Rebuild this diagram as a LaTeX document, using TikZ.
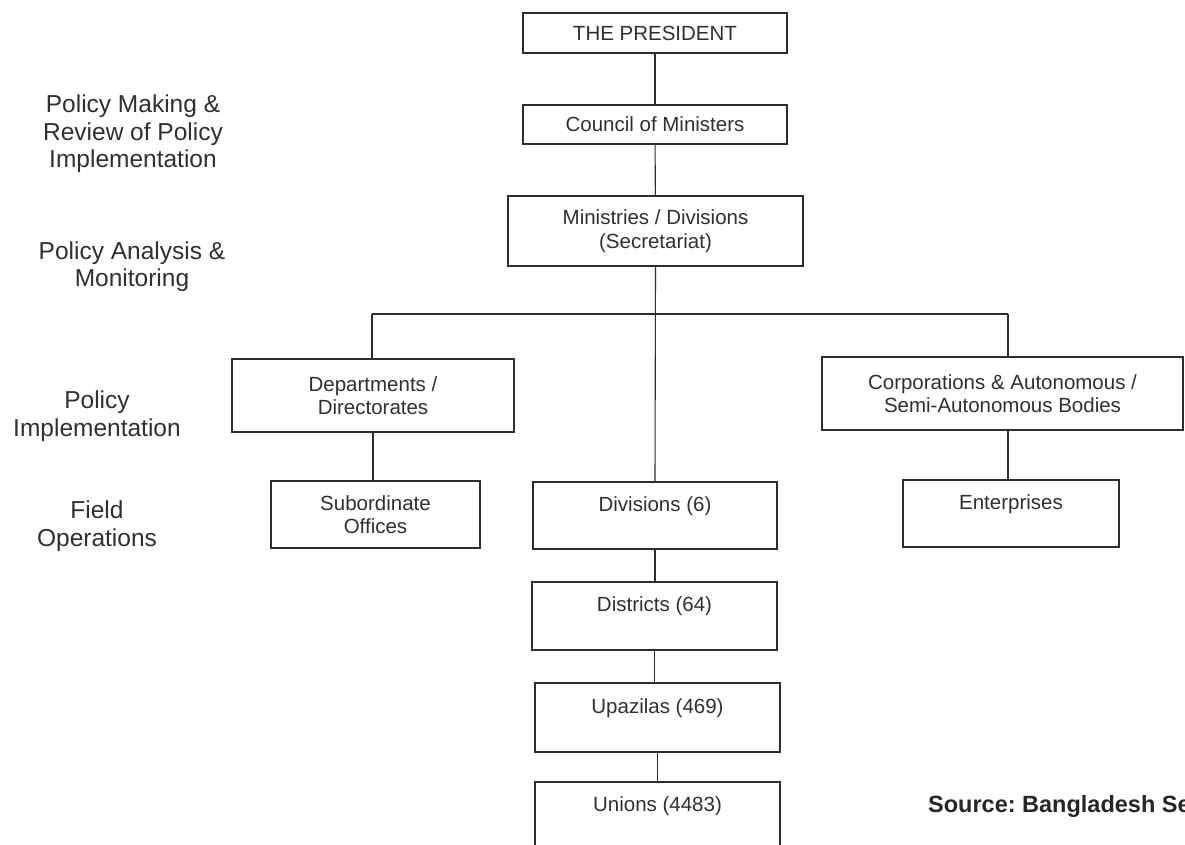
\documentclass[tikz,border=0pt]{standalone}
\usepackage{fontspec}
\setmainfont{Liberation Sans}
\frenchspacing
\definecolor{ink}{RGB}{48,48,48}
\definecolor{edge}{RGB}{45,45,45}
\begin{document}
\begin{tikzpicture}[x=1pt,y=-1pt,
  box/.style={draw=edge, line width=1.3pt, inner sep=0pt, align=center,
    text=ink, font=\fontsize{20.5}{23.5}\selectfont},
  conn/.style={draw=edge, line width=1.1pt},
  tier/.style={inner sep=0pt, align=center, text=ink,
    font=\fontsize{24.5}{27.5}\selectfont}]
\useasboundingbox (0,0) rectangle (1185,844);
\fill[white] (0,0) rectangle (1185,844);

% central chain
\node[box, minimum width=264pt, minimum height=40pt] (pres) at (655,33) {THE PRESIDENT};
\node[box, minimum width=264pt, minimum height=39pt] (council) at (655,124.5) {Council of Ministers};
\node[box, minimum width=295pt, minimum height=70pt] (mins) at (655.5,231) {Ministries / Divisions\\(Secretariat)};

% implementing bodies
\node[box, minimum width=282pt, minimum height=73pt] (dept) at (373,395.5) {Departments /\\Directorates};
\node[box, minimum width=361pt, minimum height=73pt] (corp) at (1002.5,393.5) {Corporations \& Autonomous /\\Semi-Autonomous Bodies};

% field level
\node[box, minimum width=209pt, minimum height=67pt] (sub) at (375.5,514.5) {Subordinate\\Offices};
\node[box, minimum width=244pt, minimum height=67pt] (divs) at (655,515.5) {Divisions (6)\\~};
\node[box, minimum width=216pt, minimum height=67pt] (ent) at (1011,513.5) {Enterprises\\~};
\node[box, minimum width=245pt, minimum height=68pt] (dist) at (654.5,616) {Districts (64)\\~};
\node[box, minimum width=245pt, minimum height=69pt] (upaz) at (657.5,717.5) {Upazilas (469)\\~};
\node[box, minimum width=245pt, minimum height=67pt] (unions) at (657.5,815.5) {Unions (4483)\\~};

% connectors
\coordinate (barL) at (372,314);
\coordinate (barR) at (1008,314);
\draw[conn] (pres) -- (council);
\draw[conn] (council) -- (mins);
\draw[conn] (mins.south) -- (divs.north);
\draw[conn] (barL) -- (barR);
\draw[conn] (barL) -- (barL |- dept.north);
\draw[conn] (barR) -- (barR |- corp.north);
\draw[conn] (dept.south) -- (dept.south |- sub.north);
\draw[conn] (barR |- corp.south) -- (barR |- ent.north);
\draw[conn] (divs.south) -- (divs.south |- dist.north);
\draw[conn] (dist.south) -- (dist.south |- upaz.north);
\draw[conn] (upaz.south) -- (upaz.south |- unions.north);

% tier labels
\node[tier] (t1) at (133,134) {Policy Making \&\\Review of Policy\\Implementation};
\node[tier] (t2) at (132,266.5) {Policy Analysis \&\\Monitoring};
\node[tier] (t3) at (97,416) {Policy\\Implementation};
\node[tier] (t4) at (97,526) {Field\\Operations};

% source note
\node[anchor=base west, inner sep=0pt, text=black!85,
  font=\bfseries\fontsize{23.5}{27}\selectfont] (src) at (928,812) {Source: Bangladesh Se};
\end{tikzpicture}
\end{document}
